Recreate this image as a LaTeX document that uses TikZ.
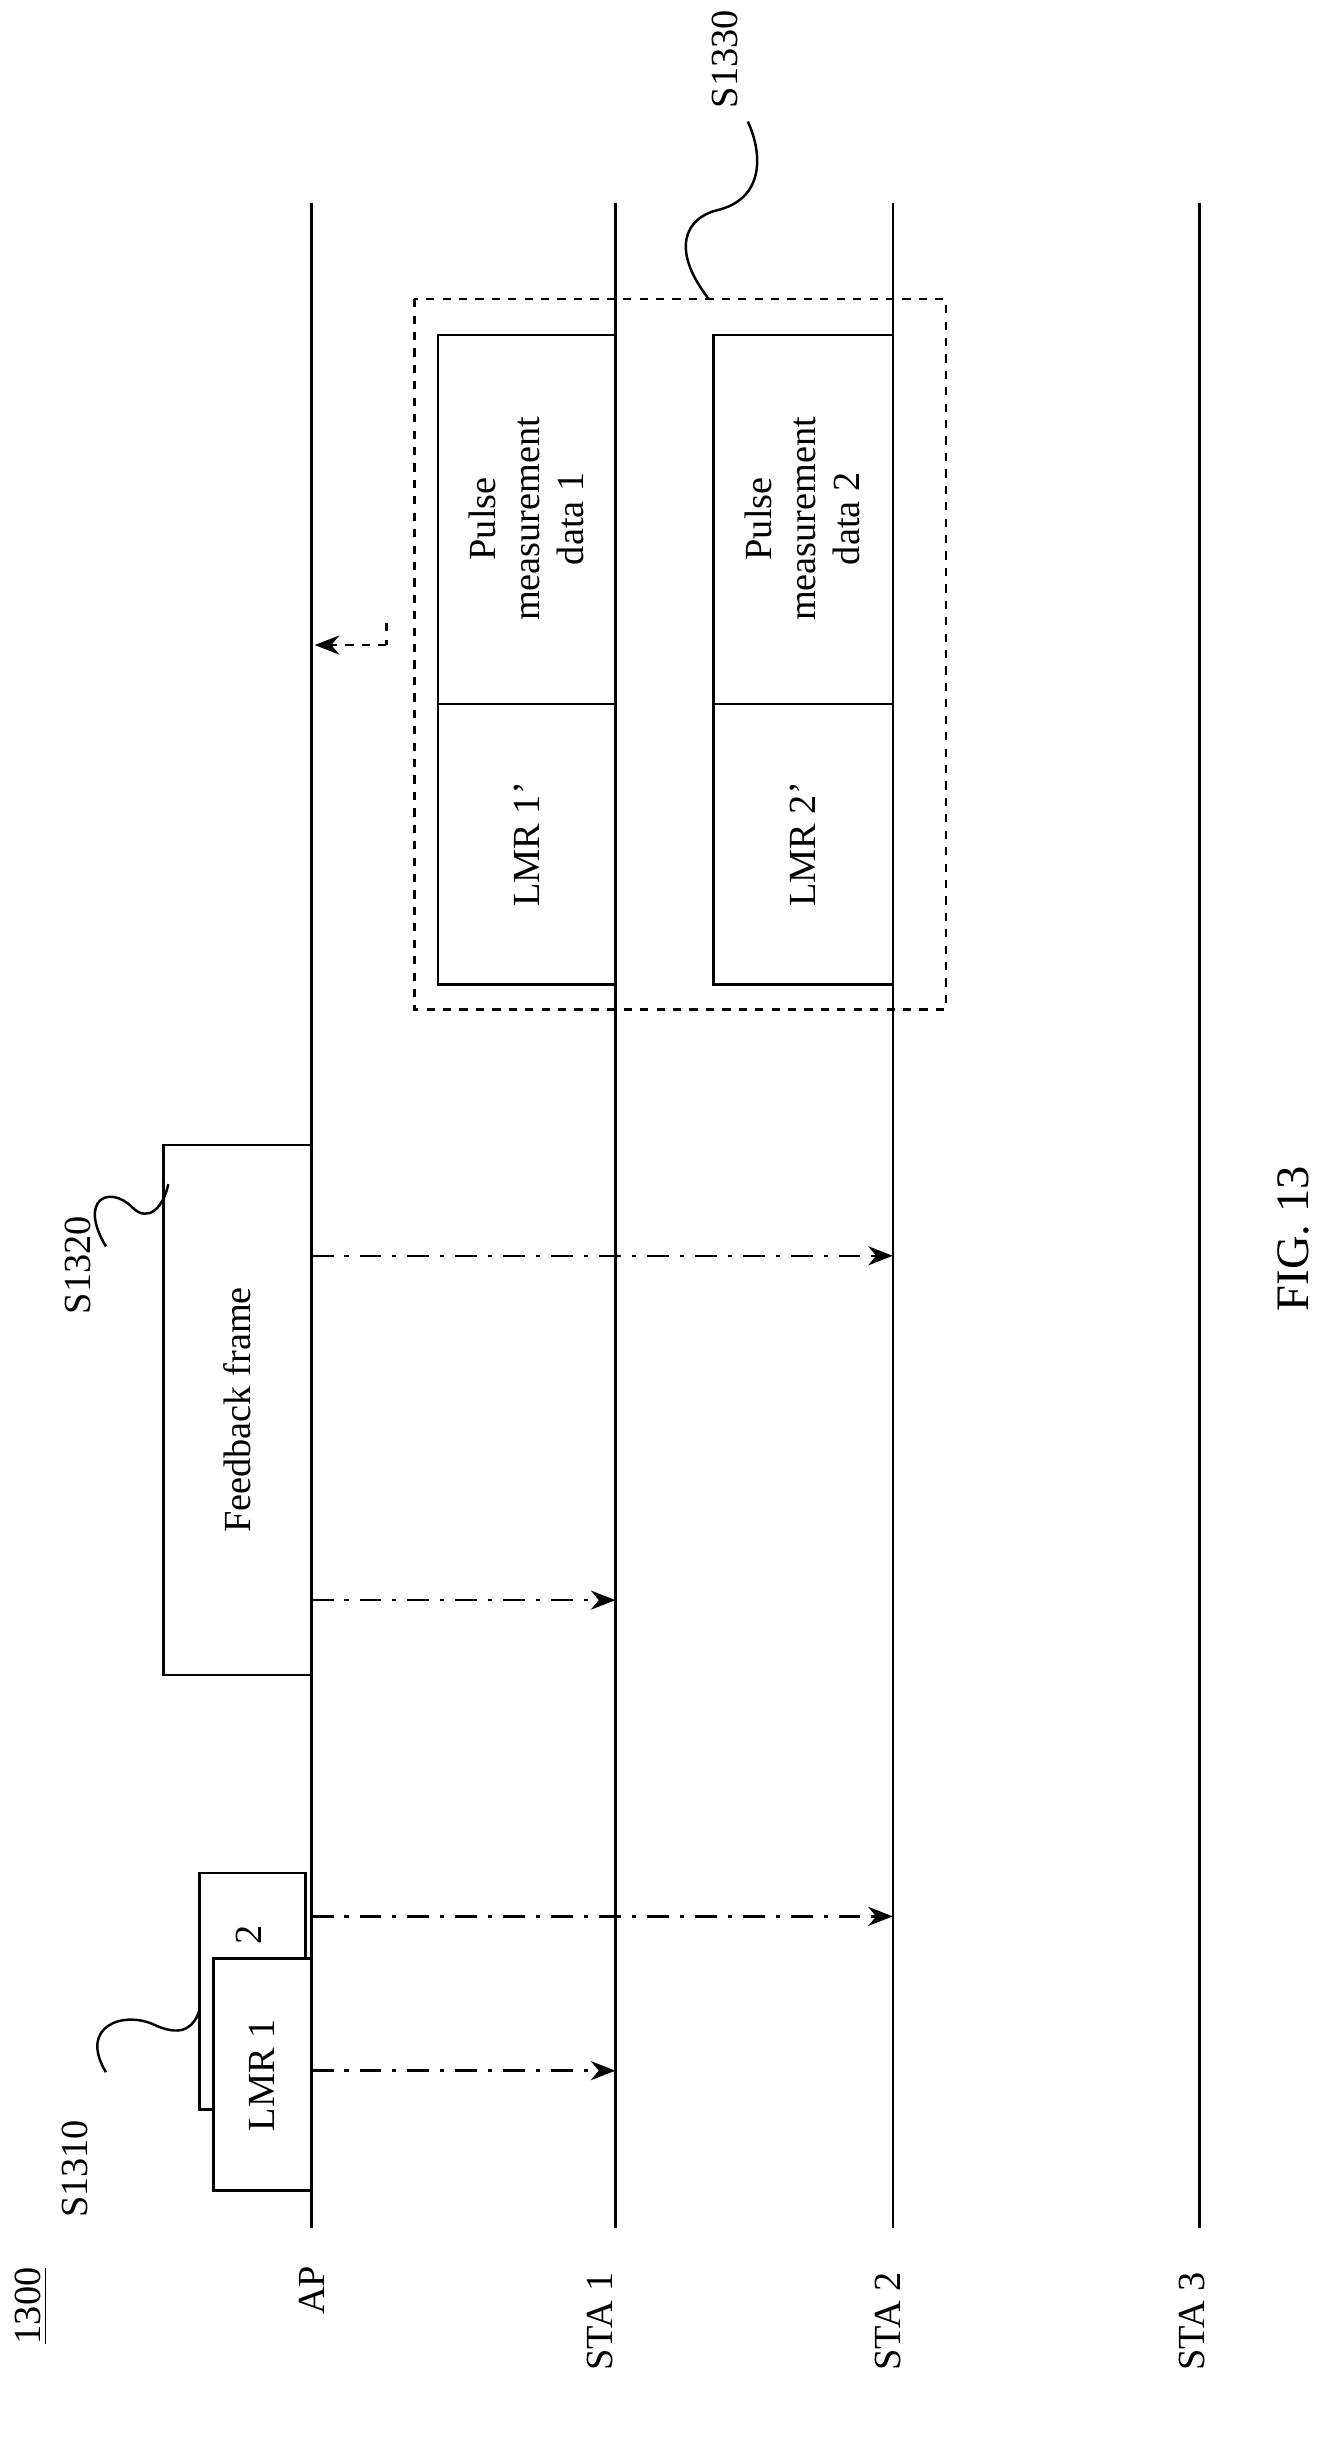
\documentclass[tikz,border=0pt]{standalone}
\usepackage{fontspec}
\setmainfont{Liberation Serif}
\usetikzlibrary{arrows.meta}
\begin{document}
\begin{tikzpicture}[x=0.02cm,y=-0.02cm,line width=0.9pt,
  txt/.style={rotate=90,font=\fontsize{14}{16}\selectfont,align=center,inner sep=1pt},
  box/.style={draw,fill=white},
  life/.style={line width=0.9pt},
  msg/.style={dash pattern=on 8pt off 4pt on 1.5pt off 4pt,-{Stealth[length=9pt,width=7pt]}},
  fb/.style={dashed,-{Stealth[length=9pt,width=7pt]}}]
\useasboundingbox (0,0) rectangle (860,1568);
% lifelines
\coordinate (ap0) at (200,130); \coordinate (ap1) at (200,1430);
\coordinate (s10) at (395,130); \coordinate (s11) at (395,1430);
\coordinate (s20) at (573,130); \coordinate (s21) at (573,1430);
\coordinate (s30) at (770,130); \coordinate (s31) at (770,1430);
\draw[life] (ap0) -- (ap1);
\draw[life] (s10) -- (s11);
\draw[life] (s20) -- (s21);
\draw[life] (s30) -- (s31);
\node[txt] (lap) at (200,1470) {AP};
\node[txt] (ls1) at (385,1490) {STA 1};
\node[txt] (ls2) at (570,1490) {STA 2};
\node[txt] (ls3) at (765,1490) {STA 3};
\node[txt] (num) at (20,1480) {\underline{1300}};
\node[txt,font=\fontsize{17}{19}\selectfont] (fig) at (830,795) {FIG. 13};
% LMR boxes
\draw[box] (128,1202) rectangle (196,1354);
\node[txt] (l2) at (160,1242) {2};
\draw[box] (137,1257) rectangle (200,1406);
\node[txt] (l1) at (168,1332) {LMR 1};
\coordinate (a1s) at (200,1329); \coordinate (a1e) at (395,1329);
\coordinate (a2s) at (200,1230); \coordinate (a2e) at (573,1230);
\draw[msg] (a1s) -- (a1e);
\draw[msg] (a2s) -- (a2e);
% feedback frame
\draw[box] (105,735) rectangle (200,1075);
\node[txt] (ff) at (152,905) {Feedback frame};
\coordinate (b1s) at (200,1027); \coordinate (b1e) at (395,1027);
\coordinate (b2s) at (200,806); \coordinate (b2e) at (573,806);
\draw[msg] (b1s) -- (b1e);
\draw[msg] (b2s) -- (b2e);
% S1330
\draw[dashed] (266,192) rectangle (607,648);
\draw[box] (281,215) rectangle (395,632);
\draw (281,452) -- (395,452);
\node[txt] (p1) at (338,333) {Pulse\\measurement\\data 1};
\node[txt] (m1) at (338,542) {LMR 1\char"27};
\draw[box] (458,215) rectangle (573,632);
\draw (458,452) -- (573,452);
\node[txt] (p2) at (515,333) {Pulse\\measurement\\data 2};
\node[txt] (m2) at (515,542) {LMR 2\char"27};
\coordinate (fs) at (248,414); \coordinate (fc) at (248,400);
\draw[dashed] (fc) -- (fs);
\draw[fb] (fs) -- (202,414);
% labels with squiggles
\node[txt] (s1310) at (48,1392) {S1310};
\node[txt] (s1320) at (50,812) {S1320};
\node[txt] (s1330) at (465,38) {S1330};
\draw (68,1330) .. controls (50,1300) and (80,1290) .. (100,1300) .. controls (118,1308) and (125,1300) .. (128,1290);
\draw (68,800) .. controls (50,770) and (70,760) .. (85,775) .. controls (95,785) and (105,775) .. (108,760);
\draw (455,192) .. controls (430,160) and (440,140) .. (460,135) .. controls (490,128) and (490,100) .. (480,78);
\end{tikzpicture}
\end{document}
